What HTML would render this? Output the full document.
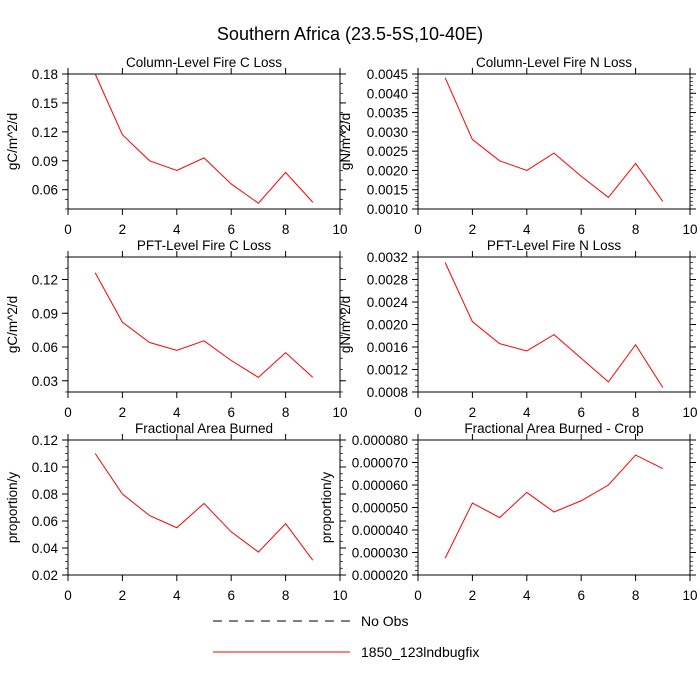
<!DOCTYPE html>
<html><head><meta charset="utf-8"><style>
body{margin:0;background:#fff;}
svg{display:block;font-family:"Liberation Sans",sans-serif;}
</style></head><body>
<svg id="c" width="700" height="700" viewBox="0 0 700 700">
<text x="350" y="40" font-size="18" text-anchor="middle">Southern Africa (23.5-5S,10-40E)</text>
<g id="panels"></g>
<g>
<line x1="213" y1="621" x2="350" y2="621" stroke="#000" stroke-dasharray="9,7"/>
<text x="361" y="626" font-size="14">No Obs</text>
<line x1="213" y1="652" x2="350" y2="652" stroke="#f00"/>
<text x="361" y="657" font-size="14">1850_123lndbugfix</text>
</g>
</svg>
<script>
const xs = [1,2,3,4,5,6,7,8,9];
const titles = ["Column-Level Fire C Loss","Column-Level Fire N Loss","PFT-Level Fire C Loss","PFT-Level Fire N Loss","Fractional Area Burned","Fractional Area Burned - Crop"];
const units = ["gC/m^2/d","gN/m^2/d","gC/m^2/d","gN/m^2/d","proportion/y","proportion/y"];
const colC = [0.180,0.117,0.090,0.080,0.093,0.066,0.046,0.078,0.047];
const colN = [0.0044,0.0028,0.00225,0.0020,0.00245,0.00185,0.0013,0.00218,0.0012];
const pftC = [0.126,0.082,0.064,0.057,0.0655,0.048,0.033,0.055,0.033];
const pftN = [0.0031,0.00205,0.00166,0.00153,0.00182,0.0014,0.00098,0.00164,0.00088];
const area = [0.110,0.080,0.064,0.055,0.073,0.052,0.037,0.058,0.031];
const crop = [0.0000275,0.000052,0.0000455,0.0000567,0.000048,0.000053,0.000060,0.0000733,0.0000673];
const yRanges = [[0.04,0.18],[0.001,0.0045],[0.02,0.14],[0.0008,0.0032],[0.02,0.12],[0.00002,0.00008]];
const yTicks = [[0.06,0.09,0.12,0.15,0.18],[0.001,0.0015,0.002,0.0025,0.003,0.0035,0.004,0.0045],[0.03,0.06,0.09,0.12],[0.0008,0.0012,0.0016,0.002,0.0024,0.0028,0.0032],[0.02,0.04,0.06,0.08,0.10,0.12],[0.00002,0.00003,0.00004,0.00005,0.00006,0.00007,0.00008]];
const yLabels = [["0.06","0.09","0.12","0.15","0.18"],["0.0010","0.0015","0.0020","0.0025","0.0030","0.0035","0.0040","0.0045"],["0.03","0.06","0.09","0.12"],["0.0008","0.0012","0.0016","0.0020","0.0024","0.0028","0.0032"],["0.02","0.04","0.06","0.08","0.10","0.12"],["0.000020","0.000030","0.000040","0.000050","0.000060","0.000070","0.000080"]];
const minorSteps = [0.01,0.0001,0.01,0.0001,0.005,0.000002];
const xTicks = [0,2,4,6,8,10];
const series = [colC,colN,pftC,pftN,area,crop];
const names = ["col-c","col-n","pft-c","pft-n","area","crop"];

const NS="http://www.w3.org/2000/svg";
const root=document.getElementById('panels');
function mk(t,a,p){const e=document.createElementNS(NS,t);for(const k in a)e.setAttribute(k,a[k]);p.appendChild(e);return e;}
const lefts=[68,418], tops=[74,257,440], H=135, W=272;
for(let i=0;i<6;i++){
  const L=lefts[i%2], T=tops[Math.floor(i/2)], B=T+H, R=L+W;
  const [y0,y1]=yRanges[i];
  const sx=v=>L+v/10*W, sy=v=>B-(v-y0)/(y1-y0)*H;
  const g=mk('g',{},root);
  
  
  const fr=mk('rect',{x:L,y:T,width:W,height:H,fill:'none',stroke:'#000','stroke-width':1},g);
  
  
  const tt=mk('text',{x:L+W/2,y:T-7,'font-size':13.5,'text-anchor':'middle'},g);tt.textContent=titles[i];
  
  
  xTicks.forEach(v=>{
    mk('line',{x1:sx(v),y1:B,x2:sx(v),y2:B+6,stroke:'#000'},g);
    mk('line',{x1:sx(v),y1:T,x2:sx(v),y2:T-6,stroke:'#000'},g);
    const t=mk('text',{x:sx(v),y:B+25,'font-size':13.5,'text-anchor':'middle'},g);t.textContent=v;
    
    
  });
  const st=minorSteps[i];
  for(let k=Math.ceil(y0/st-1e-6);k*st<=y1+st*1e-6;k++){
    const y=sy(k*st);
    mk('line',{x1:L,y1:y,x2:L-3,y2:y,stroke:'#000','stroke-width':0.7},g);
    mk('line',{x1:R,y1:y,x2:R+3,y2:y,stroke:'#000','stroke-width':0.7},g);
  }
  yTicks[i].forEach((v,j)=>{
    const y=sy(v);
    mk('line',{x1:L,y1:y,x2:L-6,y2:y,stroke:'#000'},g);
    mk('line',{x1:R,y1:y,x2:R+6,y2:y,stroke:'#000'},g);
    const t=mk('text',{x:L-10,y:y+5,'font-size':13.5,'text-anchor':'end'},g);t.textContent=yLabels[i][j];
    
    
  });
  const yt=mk('text',{x:0,y:0,'font-size':13.5,'text-anchor':'middle'},g);
  if(i%2==1) yt.setAttribute('transform',`translate(${i==5?331:350},${T+H/2}) rotate(-90)`);
  else yt.setAttribute('transform',`translate(17,${T+H/2}) rotate(-90)`);
  yt.textContent=units[i];
  
  
  const pts=series[i].map((v,j)=>sx(xs[j])+','+sy(v)).join(' ');
  const pl=mk('polyline',{points:pts,fill:'none',stroke:'#f00','stroke-width':1},g);
  
  
}
</script>
</body></html>
